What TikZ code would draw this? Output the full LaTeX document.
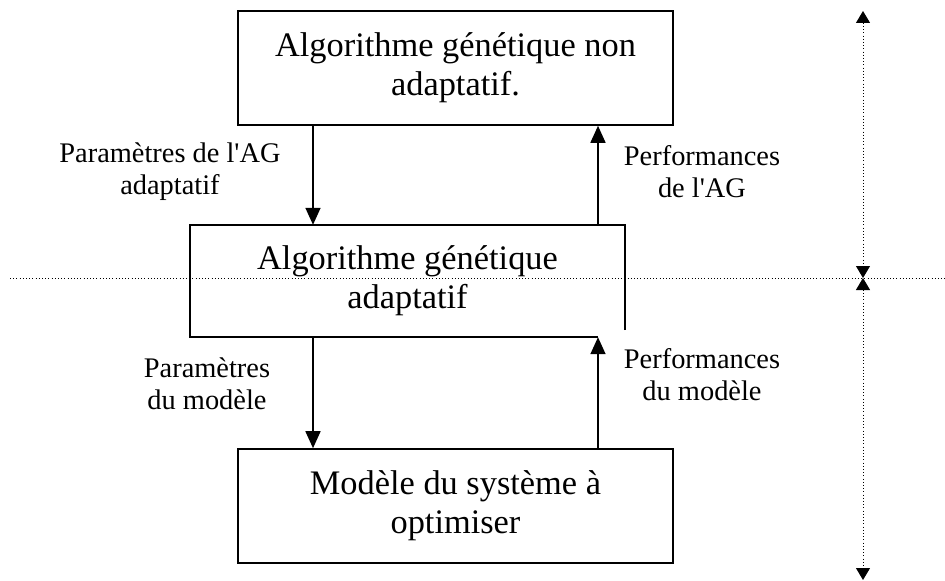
\documentclass[tikz,border=0pt]{standalone}
\usepackage{fontspec}
\setmainfont{Liberation Serif}[Ligatures=TeXOff]
\usetikzlibrary{arrows.meta,calc}

\begin{document}
\begin{tikzpicture}[x=1bp,y=-1bp,
  boxtext/.style={font=\fontsize{34.5}{39}\selectfont, align=center},
  block/.style={boxtext, draw, line width=1.6bp, inner sep=0pt},
  lbl/.style={font=\fontsize{28.5}{32}\selectfont, align=center},
  flow/.style={line width=1.6bp, -{Triangle[width=15bp,length=17bp]}},
  axis/.style={line width=1bp, dash pattern=on 1bp off 2.2bp},
  axistips/.style={axis, {Triangle[width=14bp,length=12bp,sep=0pt]}-{Triangle[width=14bp,length=12bp]}}
]
\useasboundingbox (0,0) rectangle (945,581);

% the three levels
\node[block, minimum width=435bp, minimum height=114bp] (nonadapt) at (455.5,68)
  {Algorithme génétique non\\adaptatif.};
\node[boxtext, inner sep=0pt, minimum width=435bp, minimum height=112bp] (adapt) at (407.5,281)
  {Algorithme génétique\\adaptatif};
\node[block, minimum width=435bp, minimum height=114bp] (model) at (455.5,506)
  {Modèle du système à\\optimiser};

% columns of the links
\coordinate (down) at (313,0);
\coordinate (up) at (598,0);

% outline of the middle box (right side left open at the bottom)
\draw[line width=1.6bp] ($(adapt.south east)+(0,-7)$) -- (adapt.north east)
  -- (adapt.north west) -- (adapt.south west) -- (adapt.south -| up);

% links between the levels
\draw[flow] (nonadapt.south -| down) -- (adapt.north -| down);
\draw[flow] (adapt.north -| up) -- (nonadapt.south -| up);
\draw[flow] (adapt.south -| down) -- (model.north -| down);
\draw[flow] (model.north -| up) -- (adapt.south -| up);

% link labels
\node[lbl] (l1) at (170,172) {Paramètres de l'AG\\adaptatif};
\node[lbl] (l2) at (702,172) {Performances\\de l'AG};
\node[lbl] (l3) at (207,384) {Paramètres\\du modèle};
\node[lbl] (l4) at (702,375) {Performances\\du modèle};

% separation line and vertical scale
\coordinate (sepL) at (10,278);
\coordinate (sepR) at (945,278);
\coordinate (mid) at (863,278);
\coordinate (top) at (863,11);
\coordinate (bot) at (863,580);
\draw[axis] (sepL) -- (sepR);
\draw[axistips] (top) -- (mid);
\draw[axistips] (mid) -- (bot);
\end{tikzpicture}
\end{document}
